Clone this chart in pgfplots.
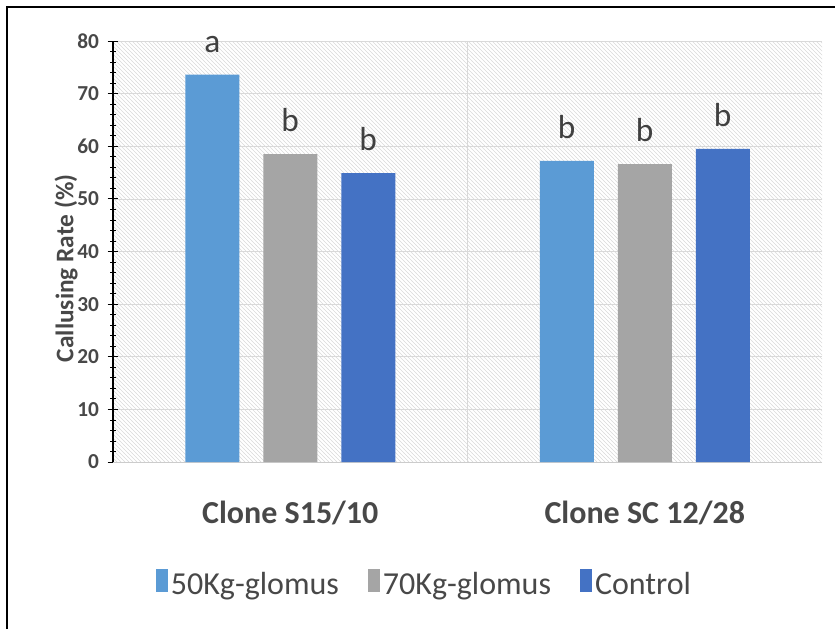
\documentclass[border=0pt]{standalone}
\usepackage{pgfplots}
\pgfplotsset{compat=1.18}
\usepackage{pgfplotstable}
\usepackage{fontspec}
\setmainfont{Carlito}
\usetikzlibrary{patterns}

\definecolor{bluelight}{RGB}{91,155,213}
\definecolor{grayA5}{RGB}{165,165,165}
\definecolor{blueCtrl}{RGB}{68,114,196}
\definecolor{txtgray}{RGB}{72,72,72}

% callusing rate (%) per clone
\pgfplotstableread{
x  s50   l50 s70   l70 ctrl  lc
0  73.6  a   58.5  b   54.9  b
1  57.2  b   56.6  b   59.5  b
}\datatab

\begin{document}
\begin{tikzpicture}
    \useasboundingbox (0,0) rectangle (626.25pt,471.75pt);
    \draw[line width=2.2pt] (5.25pt,0) -- (5.25pt,466.5pt) -- (626.25pt,466.5pt);
    \begin{axis}[
            at={(84.75pt,125.25pt)}, anchor=south west,
            scale only axis,
            width=531.75pt, height=315.75pt,
            ybar=18pt, bar width=40.5pt,
            xmin=-0.5, xmax=1.5,
            ymin=0, ymax=80,
            xtick={0,1},
            xticklabels={Clone S15/10, Clone SC 12/28},
            x tick label style={font=\bfseries\fontsize{24}{28}\selectfont, text=txtgray, yshift=-22pt},
            major x tick style={draw=none},
            extra x ticks={0.5},
            extra x tick labels={},
            extra x tick style={grid=major, major grid style={gray!30}, major tick length=0pt},
            ytick={0,10,...,80},
            minor y tick num=4,
            ymajorgrids,
            major grid style={gray!30},
            tick align=center,
            major tick length=8pt,
            minor tick length=4pt,
            y tick label style={font=\bfseries\fontsize{16}{19}\selectfont, text=txtgray, xshift=-3pt},
            /pgf/number format/assume math mode=true,
            axis x line*=bottom, axis y line*=left,
            x axis line style={gray!40},
            y axis line style={black, line width=0.8pt},
            every tick/.style={black, line width=0.6pt},
            ylabel={\textbf{Callusing Rate (\%)}},
            ylabel style={font=\fontsize{19}{22}\selectfont, text=txtgray,
                    at={(axis description cs:-0.066,0.46)}, anchor=center},
            axis background/.style={pattern=north west lines, pattern color=gray!30},
            nodes near coords,
            point meta=explicit symbolic,
            every node near coord/.append style={font=\fontsize{25}{29}\selectfont, text=black!75, anchor=south, yshift=13pt},
            legend columns=3,
            legend style={at={(0.44,-0.29)}, anchor=center, draw=none, fill=none,
                    font=\fontsize{24}{28}\selectfont, text=txtgray,
                    /tikz/every even column/.append style={column sep=20pt}},
            legend image code/.code={\fill[#1] (-3pt,-6pt) rectangle (6pt,11pt);},
        ]
        \addplot [fill=bluelight, draw=none] table [x=x, y=s50, meta=l50] {\datatab};
        \addlegendentry{50Kg-glomus}
        \addplot [fill=grayA5, draw=none] table [x=x, y=s70, meta=l70] {\datatab};
        \addlegendentry{70Kg-glomus}
        \addplot [fill=blueCtrl, draw=none] table [x=x, y=ctrl, meta=lc] {\datatab};
        \addlegendentry{Control}
    \end{axis}
\end{tikzpicture}
\end{document}
